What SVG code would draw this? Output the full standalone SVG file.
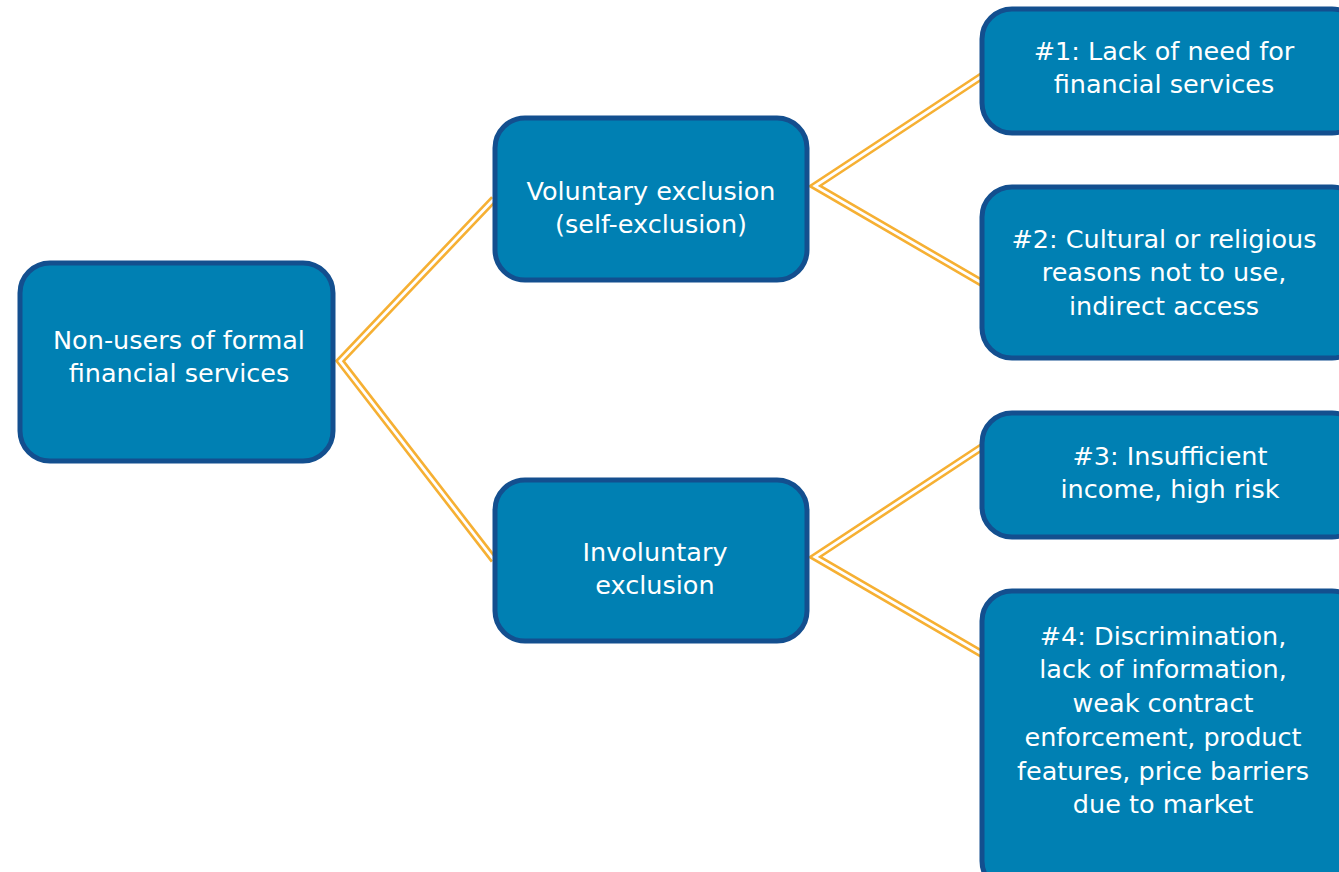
<svg xmlns="http://www.w3.org/2000/svg" width="1339" height="872" viewBox="0 0 1339 872">
<style>
.box{fill:#0080b3;stroke:#134f8f;stroke-width:5}
.t{font-family:"DejaVu Sans","Noto Sans",sans-serif;font-size:25.5px;fill:#ffffff;text-anchor:middle}
.c1{fill:none;stroke:#f6b033;stroke-width:8;stroke-linejoin:miter}
.c2{fill:none;stroke:#ffffff;stroke-width:2.8;stroke-linejoin:miter}
</style>
<rect width="1339" height="872" fill="#ffffff"/>
<g id="connectors">
<path class="c1" d="M494,199 L340,361 L494,560"/>
<path class="c2" d="M494,199 L340,361 L494,560"/>
<path class="c1" d="M982,76 L815,186 L982,283"/>
<path class="c2" d="M982,76 L815,186 L982,283"/>
<path class="c1" d="M982,447 L815,557 L982,654"/>
<path class="c2" d="M982,447 L815,557 L982,654"/>
</g>
<g id="root">
<rect class="box" x="20" y="263" width="313" height="198" rx="30"/>
<text class="t" x="179" y="349">Non-users of formal</text>
<text class="t" x="179" y="382">financial services</text>
</g>
<g id="voluntary">
<rect class="box" x="495" y="118" width="312" height="162" rx="30"/>
<text class="t" x="651" y="200">Voluntary exclusion</text>
<text class="t" x="651" y="233">(self-exclusion)</text>
</g>
<g id="involuntary">
<rect class="box" x="495" y="480" width="312" height="161" rx="30"/>
<text class="t" x="655" y="561">Involuntary</text>
<text class="t" x="655" y="594">exclusion</text>
</g>
<g id="r1">
<rect class="box" x="982" y="9" width="380" height="124" rx="30"/>
<text class="t" x="1164" y="60">#1: Lack of need for</text>
<text class="t" x="1164" y="93">financial services</text>
</g>
<g id="r2">
<rect class="box" x="982" y="187" width="380" height="171" rx="30"/>
<text class="t" x="1164" y="248">#2: Cultural or religious</text>
<text class="t" x="1164" y="281">reasons not to use,</text>
<text class="t" x="1164" y="315">indirect access</text>
</g>
<g id="r3">
<rect class="box" x="982" y="413" width="380" height="124" rx="30"/>
<text class="t" x="1170" y="465">#3: Insufficient</text>
<text class="t" x="1170" y="498">income, high risk</text>
</g>
<g id="r4">
<rect class="box" x="982" y="591" width="380" height="300" rx="30"/>
<text class="t" x="1163" y="645">#4: Discrimination,</text>
<text class="t" x="1163" y="678">lack of information,</text>
<text class="t" x="1163" y="712">weak contract</text>
<text class="t" x="1163" y="746">enforcement, product</text>
<text class="t" x="1163" y="780">features, price barriers</text>
<text class="t" x="1163" y="813">due to market</text>
</g>
</svg>
